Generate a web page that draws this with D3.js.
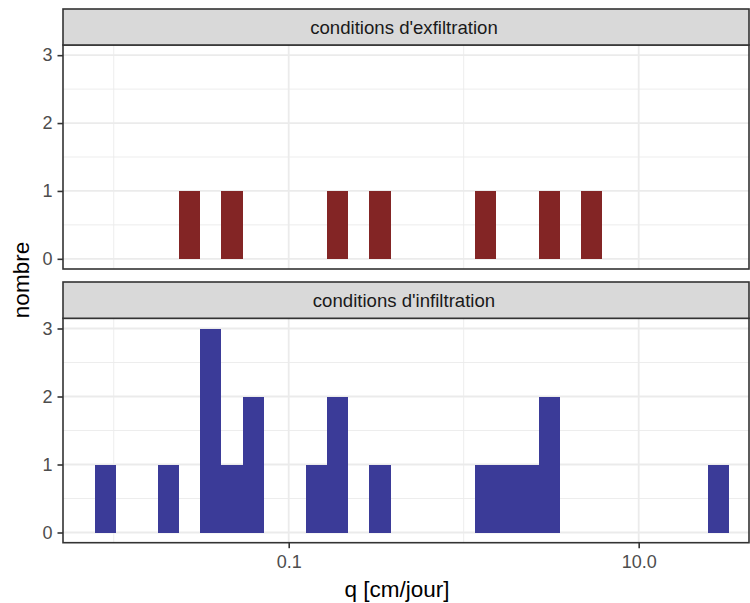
<!DOCTYPE html>
<html>
<head>
<meta charset="utf-8">
<script src="https://cdn.jsdelivr.net/npm/d3@7"></script>
<style>
  html, body { margin: 0; padding: 0; background: #fff; }
  svg { display: block; font-family: "Liberation Sans", Arial, Helvetica, sans-serif; }
</style>
</head>
<body>
<svg id="chart" width="750" height="603"></svg>
<script>
const facetLabels = ["conditions d'exfiltration", "conditions d'infiltration"];
const exfiltration = [0.0272, 0.0475, 0.1907, 0.3325, 1.336, 3.079, 5.370];
const infiltration = [0.00894, 0.0206, 0.0359, 0.0359, 0.0359, 0.0475, 0.0627, 0.0627,
                      0.1443, 0.1907, 0.1907, 0.3325, 1.336, 1.765, 2.332, 3.079, 3.079, 28.50];
const nBins = 30;
const xDomain = [0.00513, 42.7];
const xTickValues = [0.1, 10];
const xTickLabels = ["0.1", "10.0"];
const xMinorValues = [0.01, 1];
const yDomain = [-0.15, 3.15];
const yTickValues = [0, 1, 2, 3];
const yMinorValues = [0.5, 1.5, 2.5];
const barColors = ["#832525", "#3B3B98"];
const xTitle = "q [cm/jour]";
const yTitle = "nombre";

// ---- layout ----
const left = 63, right = 749;
const panels = [
  { stripTop: 9, stripBottom: 45, top: 45, bottom: 269 },
  { stripTop: 282, stripBottom: 318.3, top: 318.3, bottom: 542.7 }
];
const svg = d3.select("#chart");
const x = d3.scaleLog().domain(xDomain).range([left, right]);

// bins (ggplot-style: 30 bins spanning the data range, centred on min and max)
const all = exfiltration.concat(infiltration).map(v => Math.log10(v));
const lo = d3.min(all), hi = d3.max(all);
const w = (hi - lo) / (nBins - 1);
const edges = d3.range(nBins + 1).map(i => lo - w / 2 + i * w);
const binner = d3.bin().value(d => Math.log10(d)).domain([edges[0], edges[nBins]]).thresholds(edges.slice(1, nBins));
const series = [exfiltration, infiltration];

const gridColor = "#EBEBEB";
const dark = "#333333";

panels.forEach((p, i) => {
  const y = d3.scaleLinear().domain(yDomain).range([p.bottom, p.top]);
  const g = svg.append("g");
  // background
  g.append("rect").attr("x", left).attr("y", p.top).attr("width", right - left).attr("height", p.bottom - p.top).attr("fill", "#fff");
  // minor grid
  g.selectAll(".ymin").data(yMinorValues).join("line")
    .attr("x1", left).attr("x2", right).attr("y1", d => y(d)).attr("y2", d => y(d))
    .attr("stroke", gridColor).attr("stroke-width", 0.9);
  g.selectAll(".xmin").data(xMinorValues).join("line")
    .attr("y1", p.top).attr("y2", p.bottom).attr("x1", d => x(d)).attr("x2", d => x(d))
    .attr("stroke", gridColor).attr("stroke-width", 0.9);
  // major grid
  g.selectAll(".ymaj").data(yTickValues).join("line")
    .attr("x1", left).attr("x2", right).attr("y1", d => y(d)).attr("y2", d => y(d))
    .attr("stroke", gridColor).attr("stroke-width", 1.8);
  g.selectAll(".xmaj").data(xTickValues).join("line")
    .attr("y1", p.top).attr("y2", p.bottom).attr("x1", d => x(d)).attr("x2", d => x(d))
    .attr("stroke", gridColor).attr("stroke-width", 1.8);
  // bars
  const bins = binner(series[i]).filter(b => b.length > 0);
  g.selectAll(".bar").data(bins).join("rect")
    .attr("x", b => x(Math.pow(10, b.x0)))
    .attr("width", b => x(Math.pow(10, b.x1)) - x(Math.pow(10, b.x0)))
    .attr("y", b => y(b.length))
    .attr("height", b => y(0) - y(b.length))
    .attr("fill", barColors[i])
    .attr("shape-rendering", "crispEdges");
  // panel border
  g.append("rect").attr("x", left).attr("y", p.top).attr("width", right - left).attr("height", p.bottom - p.top)
    .attr("fill", "none").attr("stroke", dark).attr("stroke-width", 1.6);
  // strip
  g.append("rect").attr("x", left).attr("y", p.stripTop).attr("width", right - left).attr("height", p.stripBottom - p.stripTop)
    .attr("fill", "#D9D9D9").attr("stroke", dark).attr("stroke-width", 1.6);
  g.append("text").attr("x", 404).attr("y", (p.stripTop + p.stripBottom) / 2)
    .attr("dy", "0.36em").attr("text-anchor", "middle").attr("font-size", 18.6).attr("fill", "#1A1A1A")
    .text(facetLabels[i]);
  // y axis
  const ya = g.append("g").attr("transform", `translate(${left},0)`)
    .call(d3.axisLeft(y).tickValues(yTickValues).tickFormat(d3.format("d")).tickSize(5.5).tickPadding(5));
  ya.select(".domain").remove();
  ya.selectAll(".tick line").attr("stroke", dark).attr("stroke-width", 1.6);
  ya.selectAll(".tick text").attr("fill", "#4D4D4D").attr("font-size", 18).attr("font-family", null);
  // x axis only on the bottom panel
  if (i === panels.length - 1) {
    const xa = g.append("g").attr("transform", `translate(0,${p.bottom})`)
      .call(d3.axisBottom(x).tickValues(xTickValues).tickFormat((d, k) => xTickLabels[k]).tickSize(5.5).tickPadding(7.5));
    xa.select(".domain").remove();
    xa.selectAll(".tick line").attr("stroke", dark).attr("stroke-width", 1.6);
    xa.selectAll(".tick text").attr("fill", "#4D4D4D").attr("font-size", 18).attr("font-family", null);
  }
});

// axis titles
svg.append("text").attr("x", 397).attr("y", 596.5).attr("text-anchor", "middle")
  .attr("font-size", 22.5).attr("fill", "#000").text(xTitle);
svg.append("text").attr("transform", "translate(28.5,280) rotate(-90)").attr("text-anchor", "middle")
  .attr("font-size", 22.5).attr("fill", "#000").text(yTitle);
</script>
</body>
</html>
